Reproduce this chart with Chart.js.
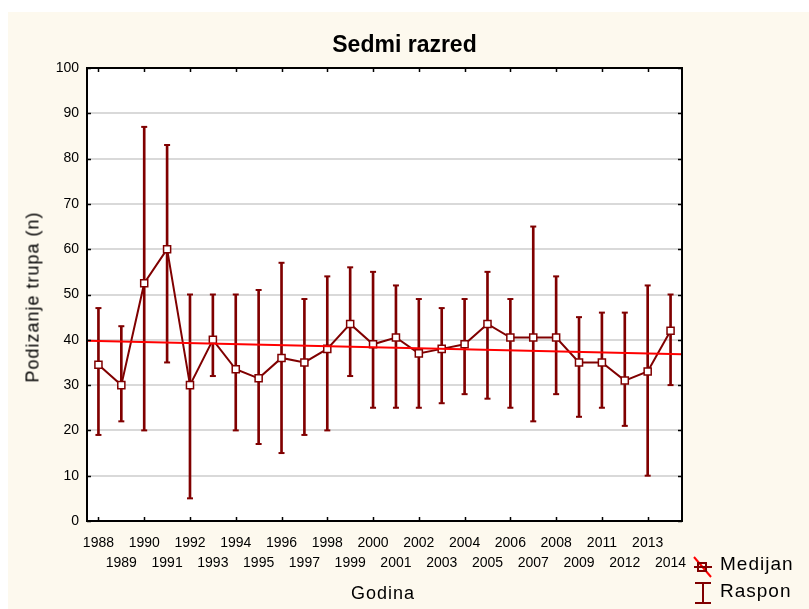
<!DOCTYPE html>
<html>
<head>
<meta charset="utf-8">
<script src="https://cdn.jsdelivr.net/npm/chart.js@4.4.1/dist/chart.umd.min.js"></script>
<style>
  html, body { margin: 0; padding: 0; background: #ffffff; }
  #wrap { position: relative; width: 809px; height: 609px; overflow: hidden; font-family: "Liberation Sans", Arial, sans-serif; }
  #chart { position: absolute; left: 0; top: 0; }
  .lbl { position: absolute; color: #000; white-space: nowrap; }
  #title { left: 0; width: 809px; top: 31px; text-align: center; font-family: "Liberation Sans Narrow", "Liberation Sans", Arial, sans-serif; font-weight: bold; font-size: 23px; }
  #xtitle { left: 383px; top: 583px; transform: translateX(-50%); font-size: 18px; letter-spacing: 1px; }
  #ytitle { left: 33px; top: 297px; transform: translate(-50%, -50%) rotate(-90deg); font-size: 18px; letter-spacing: 1px; }
  #legend { position: absolute; left: 690px; top: 552px; }
  .leg-row { position: relative; height: 27px; }
  .leg-row svg { position: absolute; left: 0; top: 0; }
  .leg-row span { position: absolute; left: 30px; top: 1px; font-size: 19px; letter-spacing: 1px; }
</style>
</head>
<body>
<div id="wrap">
  <canvas id="chart" width="809" height="609"></canvas>
  <div id="title" class="lbl">Sedmi razred</div>
  <div id="ytitle" class="lbl">Podizanje trupa (n)</div>
  <div id="xtitle" class="lbl">Godina</div>
  <div id="legend">
    <div class="leg-row">
      <svg width="26" height="27"><line x1="4" y1="5" x2="21" y2="25" stroke="#ff0000" stroke-width="2"/><line x1="4" y1="15" x2="22" y2="15" stroke="#800000" stroke-width="2"/><rect x="8" y="11" width="8" height="8" fill="none" stroke="#800000" stroke-width="2"/></svg>
      <span>Medijan</span>
    </div>
    <div class="leg-row">
      <svg width="26" height="27"><line x1="13" y1="4" x2="13" y2="24" stroke="#800000" stroke-width="2"/><line x1="5" y1="4" x2="21" y2="4" stroke="#800000" stroke-width="2"/><line x1="5" y1="24" x2="21" y2="24" stroke="#800000" stroke-width="2"/></svg>
      <span>Raspon</span>
    </div>
  </div>
</div>
<script>
// podaci (očitano sa slike)
const years = ['1988', '1989', '1990', '1991', '1992', '1993', '1994', '1995', '1996', '1997', '1998', '1999', '2000',
               '2001', '2002', '2003', '2004', '2005', '2006', '2007', '2008', '2009', '2011', '2012', '2013', '2014'];
const medians = [34.5, 30, 52.5, 60, 30, 40, 33.5, 31.5, 36, 35, 38, 43.5, 39,
                 40.5, 37, 38, 39, 43.5, 40.5, 40.5, 40.5, 35, 35, 31, 33, 42];
const mins = [19, 22, 20, 35, 5, 32, 20, 17, 15, 19, 20, 32, 25,
              25, 25, 26, 28, 27, 25, 22, 28, 23, 25, 21, 10, 30];
const maxs = [47, 43, 87, 83, 50, 50, 50, 51, 57, 49, 54, 56, 55,
              52, 49, 47, 49, 55, 49, 65, 54, 45, 46, 46, 52, 50];
// linearni trend (krajevi ose)
const trendY = [39.8, 36.8];
const yTicks = [0, 10, 20, 30, 40, 50, 60, 70, 80, 90, 100];

const dark = '#800000';
const xMin = -0.5, xMax = years.length - 0.5;

const bgPlugin = {
  id: 'bg',
  beforeDraw(chart) {
    const c = chart.ctx, a = chart.chartArea;
    c.save();
    c.fillStyle = '#ffffff';
    c.fillRect(0, 0, chart.width, chart.height);
    c.fillStyle = '#fdf9ee';
    c.fillRect(8, 12, chart.width - 8, chart.height - 12);
    c.fillStyle = '#ffffff';
    c.fillRect(a.left, a.top, a.right - a.left, a.bottom - a.top);
    c.restore();
  },
  afterDraw(chart) {
    const c = chart.ctx, a = chart.chartArea;
    const xs = chart.scales.x, ys = chart.scales.y;
    c.save();
    c.strokeStyle = '#000';
    c.lineWidth = 2;
    c.strokeRect(a.left, a.top, a.right - a.left, a.bottom - a.top);
    // unutrasnje crtice
    c.lineWidth = 1.5;
    c.beginPath();
    years.forEach((y, i) => {
      if (i % 2) return;
      const px = Math.round(xs.getPixelForValue(i)) + 0.5;
      c.moveTo(px, a.top); c.lineTo(px, a.top + 4);
      c.moveTo(px, a.bottom); c.lineTo(px, a.bottom - 4);
    });
    yTicks.forEach(v => {
      const py = Math.round(ys.getPixelForValue(v)) + 0.5;
      c.moveTo(a.left, py); c.lineTo(a.left + 4, py);
      c.moveTo(a.right, py); c.lineTo(a.right - 4, py);
    });
    c.stroke();
    c.restore();
  }
};

const ctx = document.getElementById('chart').getContext('2d');
new Chart(ctx, {
  type: 'line',
  data: {
    datasets: [
      {
        label: 'Trend',
        type: 'line',
        data: [{ x: xMin, y: trendY[0] }, { x: xMax, y: trendY[1] }],
        borderColor: '#ff0000',
        borderWidth: 2,
        pointRadius: 0,
        fill: false
      },
      {
        label: 'Medijan',
        type: 'line',
        data: medians.map((v, i) => ({ x: i, y: v })),
        borderColor: dark,
        borderWidth: 2,
        pointStyle: 'rect',
        pointRadius: 5,
        pointBorderWidth: 1.5,
        pointBackgroundColor: '#ffffff',
        pointBorderColor: dark,
        tension: 0,
        fill: false
      },
      {
        label: 'Caps',
        type: 'scatter',
        data: mins.map((v, i) => ({ x: i, y: v })).concat(maxs.map((v, i) => ({ x: i, y: v }))),
        pointStyle: 'line',
        pointRadius: 3,
        pointBorderWidth: 2,
        borderColor: dark,
        backgroundColor: dark
      },
      {
        label: 'Raspon',
        type: 'bar',
        data: mins.map((v, i) => ({ x: i, y: [v, maxs[i]] })),
        backgroundColor: dark,
        borderWidth: 0,
        barThickness: 2,
        grouped: false
      }
    ]
  },
  options: {
    responsive: false,
    animation: false,
    layout: { padding: { left: 0, top: 68, right: 127, bottom: 0 } },
    plugins: {
      legend: { display: false },
      title: { display: false },
      tooltip: { enabled: false }
    },
    scales: {
      x: {
        type: 'linear',
        offset: false,
        min: xMin,
        max: xMax,
        afterFit: s => { s.height = 88; },
        afterBuildTicks: s => { s.ticks = years.map((y, i) => ({ value: i })); },
        grid: { display: false, drawTicks: false, offset: false },
        border: { display: false },
        ticks: {
          autoSkip: false,
          maxRotation: 0,
          minRotation: 0,
          padding: 12,
          color: '#000',
          font: { family: '"Liberation Sans", Arial, sans-serif', size: 14, lineHeight: 1.45 },
          callback: (v) => {
            const i = Math.round(v);
            return i % 2 === 0 ? [years[i]] : ['', years[i]];
          }
        }
      },
      y: {
        min: 0,
        max: 100,
        afterFit: s => { s.width = 87; },
        afterBuildTicks: s => { s.ticks = yTicks.map(v => ({ value: v })); },
        grid: {
          drawTicks: false,
          color: '#d9d9d9',
          lineWidth: 2
        },
        border: { display: false },
        ticks: {
          padding: 8,
          color: '#000',
          font: { family: '"Liberation Sans", Arial, sans-serif', size: 14 }
        }
      }
    }
  },
  plugins: [bgPlugin]
});
</script>
</body>
</html>
